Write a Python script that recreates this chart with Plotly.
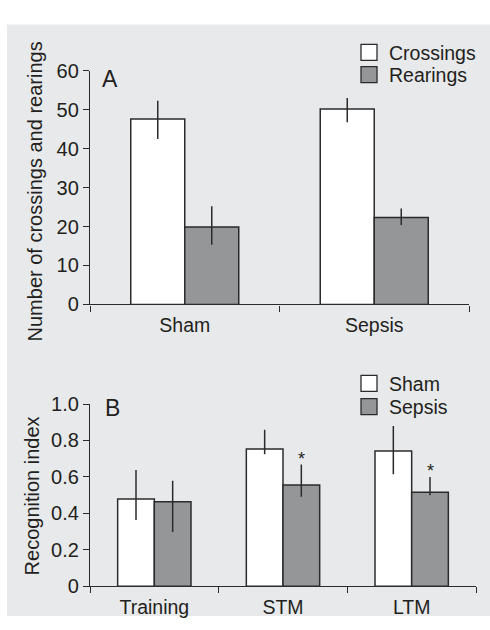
import plotly.graph_objects as go

# ---- Panel A data ----
groups_a = ["Sham", "Sepsis"]
crossings = [47.6, 50.2]
crossings_hi = [52.3, 53.0]
crossings_lo = [42.5, 46.8]
rearings = [19.9, 22.3]
rearings_hi = [25.2, 24.6]
rearings_lo = [15.3, 20.4]
ticks_a = [0, 10, 20, 30, 40, 50, 60]

# ---- Panel B data ----
phases_b = ["Training", "STM", "LTM"]
sham_ri = [0.479, 0.754, 0.742]
sham_hi = [0.638, 0.859, 0.880]
sham_lo = [0.363, 0.725, 0.615]
sepsis_ri = [0.464, 0.555, 0.516]
sepsis_hi = [0.579, 0.668, 0.600]
sepsis_lo = [0.297, 0.491, 0.500]
ticks_b = [0, 0.2, 0.4, 0.6, 0.8, 1.0]
ticktext_b = ["0", "0.2", "0.4", "0.6", "0.8", "1.0"]
signif_b = ["STM", "LTM"]

W, H = 490, 630
FONT = "Liberation Sans, Arial, sans-serif"
TXT = "#231f20"
LINE = "#2b2b2b"
GRAY = "#959698"
BG = "#e8e9eb"


def err(vals, hi, lo):
    return dict(type="data", symmetric=False,
                array=[h - v for h, v in zip(hi, vals)],
                arrayminus=[v - l for v, l in zip(vals, lo)],
                color=LINE, thickness=1.5, width=0)


def bar(x, y, name, color, e, xa, ya):
    return go.Bar(x=x, y=y, name=name, showlegend=False,
                  marker=dict(color=color, line=dict(color=LINE, width=1.5)),
                  error_y=e, xaxis=xa, yaxis=ya)


def legend_entry(name, color, lg, xa, ya):
    # legend-only entry (no data drawn) so the legend swatch is larger
    return go.Scatter(x=[None], y=[None], mode="markers", name=name,
                      marker=dict(symbol="square", size=16, color=color,
                                  line=dict(color=LINE, width=1.3)),
                      legend=lg, xaxis=xa, yaxis=ya, hoverinfo="skip")


fig = go.Figure()
fig.add_trace(bar(groups_a, crossings, "Crossings", "white",
                  err(crossings, crossings_hi, crossings_lo), "x", "y"))
fig.add_trace(bar(groups_a, rearings, "Rearings", GRAY,
                  err(rearings, rearings_hi, rearings_lo), "x", "y"))
fig.add_trace(bar(phases_b, sham_ri, "Sham", "white",
                  err(sham_ri, sham_hi, sham_lo), "x2", "y2"))
fig.add_trace(bar(phases_b, sepsis_ri, "Sepsis", GRAY,
                  err(sepsis_ri, sepsis_hi, sepsis_lo), "x2", "y2"))
fig.add_trace(legend_entry("Crossings", "white", "legend", "x", "y"))
fig.add_trace(legend_entry("Rearings", GRAY, "legend2", "x", "y"))
fig.add_trace(legend_entry("Sham", "white", "legend3", "x2", "y2"))
fig.add_trace(legend_entry("Sepsis", GRAY, "legend4", "x2", "y2"))


def px_x(p):
    return p / W


def px_y(p):
    return (H - p) / H


xcommon = dict(type="category", showline=True, linecolor=LINE, linewidth=1.3,
               ticks="outside", tickson="boundaries", ticklen=6, tickwidth=1.3,
               tickcolor=LINE, showgrid=False, zeroline=False,
               ticklabelstandoff=3,
               tickfont=dict(family=FONT, size=19.5, color=TXT))
ycommon = dict(showline=True, linecolor=LINE, linewidth=1.3, ticks="outside",
               ticklen=6, tickwidth=1.3, tickcolor=LINE, showgrid=False,
               zeroline=False, tickfont=dict(family=FONT, size=20, color=TXT))


def label(text, x, y, size, angle=0):
    return dict(text=text, x=px_x(x), y=px_y(y), xref="paper", yref="paper",
                xanchor="center", yanchor="middle", textangle=angle,
                showarrow=False, font=dict(family=FONT, size=size, color=TXT))


annotations = [
    label("A", 110, 70, 23),
    label("B", 112, 411, 23),
    label("Number of crossings and rearings", 35, 187, 20, -90),
    label("Recognition index", 32, 503, 20, -90),
]
for ph in signif_b:
    i = phases_b.index(ph)
    annotations.append(dict(text="*", x=i + 0.1425, y=sepsis_hi[i],
                            xref="x2", yref="y2", yanchor="bottom", yshift=-6,
                            showarrow=False,
                            font=dict(family=FONT, size=18, color=TXT)))

legend_common = dict(xanchor="left", yanchor="top", bgcolor="rgba(0,0,0,0)",
                     tracegroupgap=0, itemclick=False, itemdoubleclick=False,
                     font=dict(family=FONT, size=19.5, color=TXT))

# legend row centres (px): 42, 65, 385, 409; item centre ~ top + 19
fig.update_layout(
    width=W, height=H,
    margin=dict(l=0, r=0, t=0, b=0),
    paper_bgcolor="white", plot_bgcolor="rgba(0,0,0,0)",
    barmode="group", bargap=0.43, bargroupgap=0,
    font=dict(family=FONT, color=TXT),
    xaxis=dict(xcommon, domain=[px_x(90), px_x(469)], anchor="y"),
    yaxis=dict(ycommon, domain=[px_y(304), px_y(62)], range=[0, 60],
               tickvals=ticks_a, anchor="x"),
    xaxis2=dict(xcommon, domain=[px_x(90), px_x(476)], anchor="y2"),
    yaxis2=dict(ycommon, domain=[px_y(596), px_y(407.3)], range=[0, 1.0],
                tickvals=ticks_b, ticktext=ticktext_b, anchor="x2"),
    legend=dict(legend_common, x=px_x(349), y=px_y(23)),
    legend2=dict(legend_common, x=px_x(349), y=px_y(46)),
    legend3=dict(legend_common, x=px_x(349), y=px_y(366)),
    legend4=dict(legend_common, x=px_x(349), y=px_y(390)),
    shapes=[dict(type="rect", xref="paper", yref="paper",
                 x0=px_x(7), x1=1, y0=px_y(627), y1=px_y(14),
                 fillcolor=BG, line=dict(width=0), layer="below")],
    annotations=annotations,
    showlegend=True,
)

post = (
    "document.documentElement.style.margin='0';"
    "document.body.style.margin='0';"
    "document.body.style.overflow='hidden';"
    "var d=document.getElementsByClassName('plotly-graph-div')[0];"
    "d.style.position='fixed';d.style.left='0px';d.style.top='0px';"
)

fig.write_html("out.html", post_script=post,
               config={"displayModeBar": False})
